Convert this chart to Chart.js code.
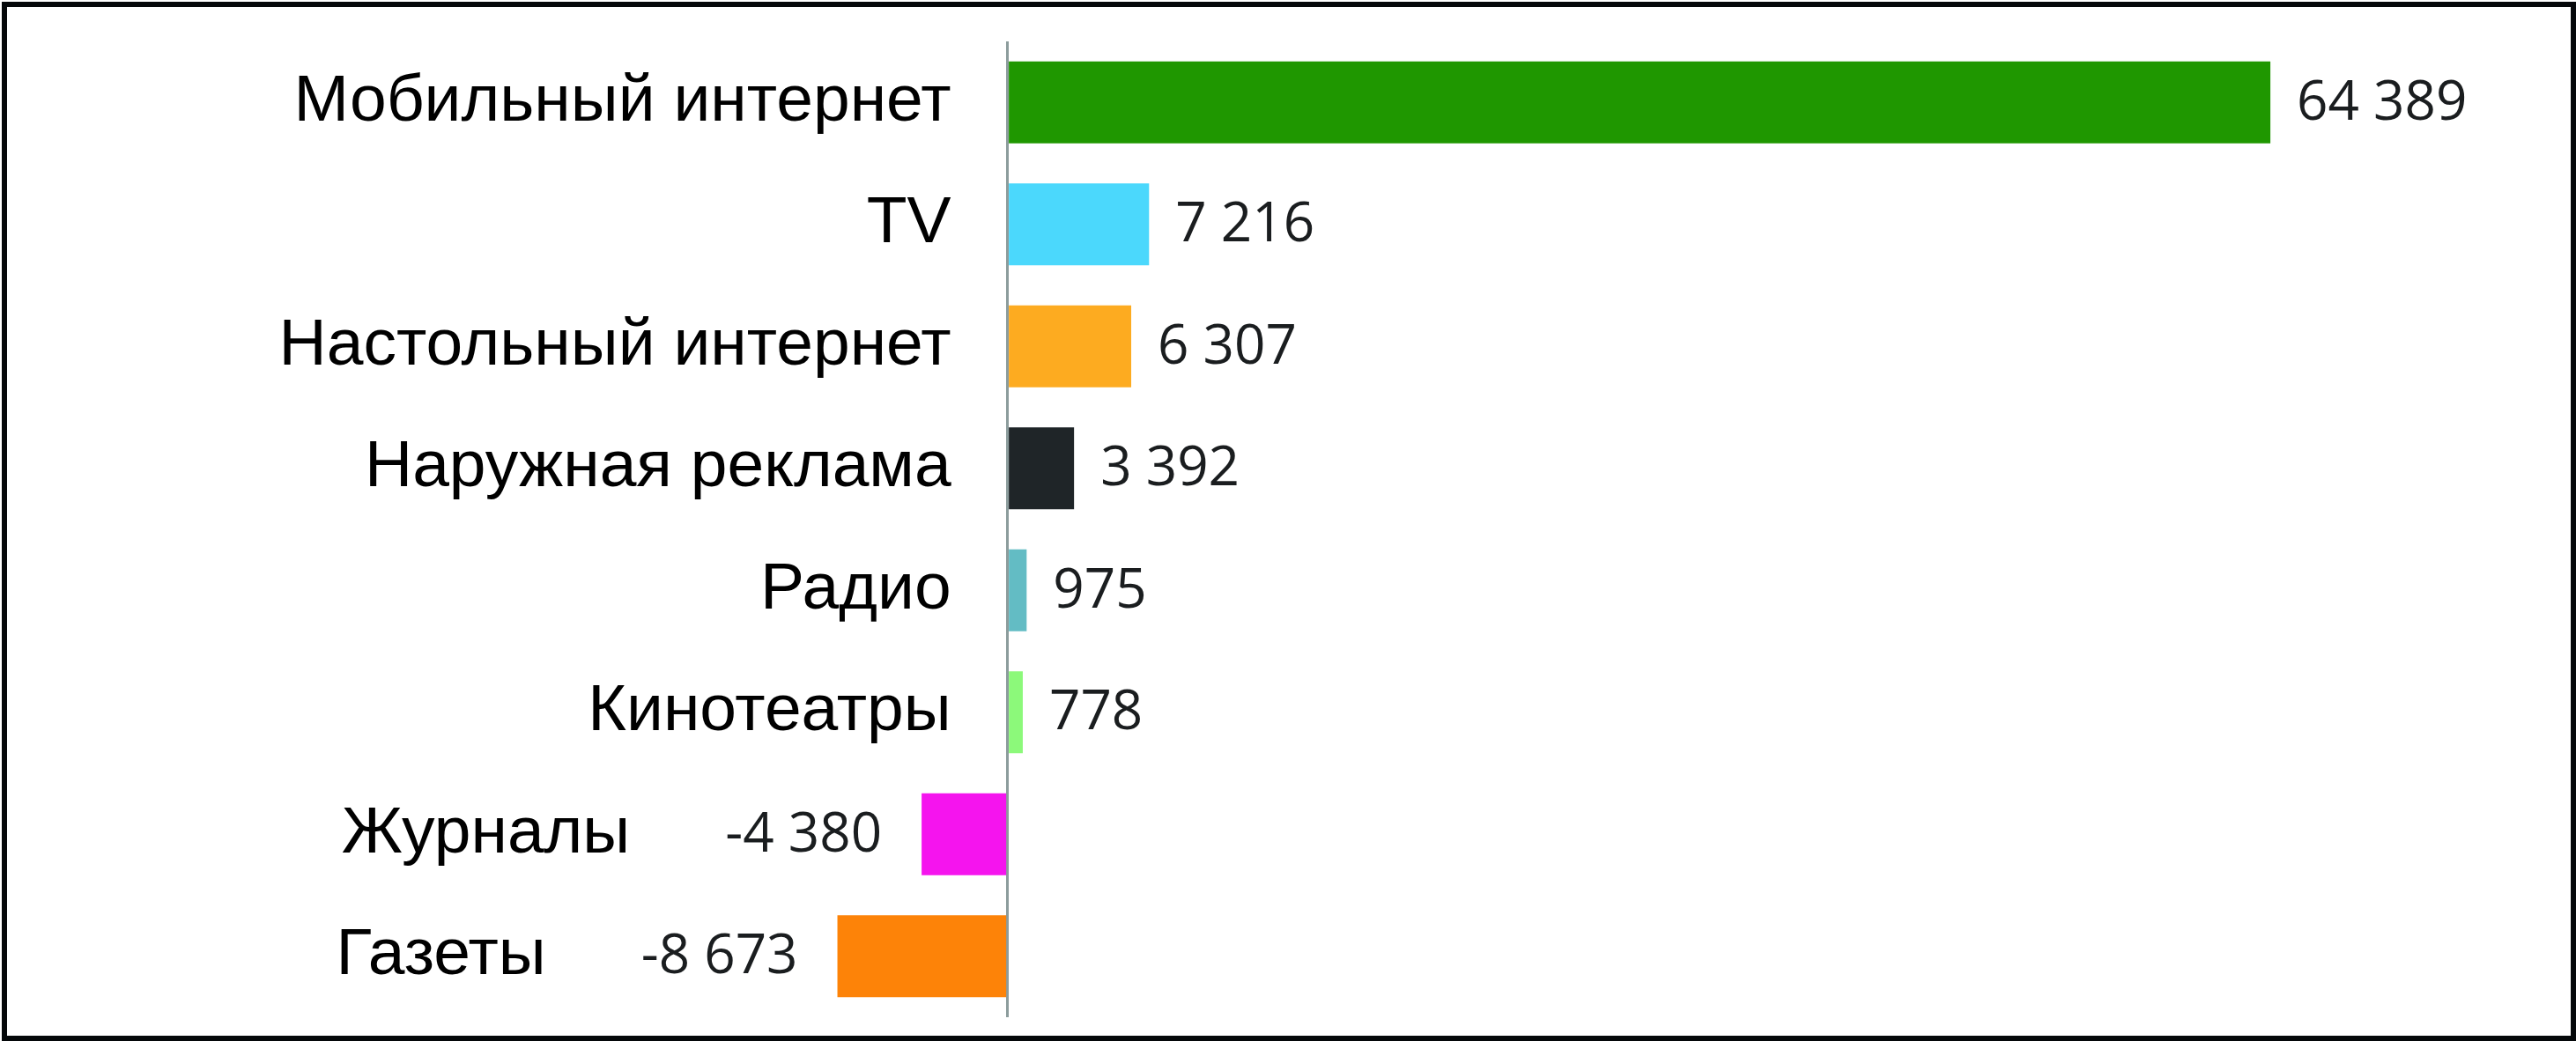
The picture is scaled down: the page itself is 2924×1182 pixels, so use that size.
<!DOCTYPE html>
<html>
<head>
<meta charset="utf-8">
<script src="https://cdn.jsdelivr.net/npm/chart.js@4.4.0/dist/chart.umd.min.js"></script>
<style>
  html, body { margin: 0; padding: 0; background: #fff; }
  #wrap { position: relative; width: 2924px; height: 1182px; }
  #frame {
    position: absolute; left: 2px; top: 2px; width: 2922px; height: 1180px;
    border: 6px solid #05080a; box-sizing: border-box; pointer-events: none;
  }
</style>
</head>
<body>
<div id="wrap">
  <canvas id="bar_chart" width="2924" height="1182"></canvas>
  <div id="frame"></div>
</div>
<script>
const categories = [
  "Мобильный интернет",
  "TV",
  "Настольный интернет",
  "Наружная реклама",
  "Радио",
  "Кинотеатры",
  "Журналы",
  "Газеты",
];
const values = [64389, 7216, 6307, 3392, 975, 778, -4380, -8673];
const valueLabels = ["64 389", "7 216", "6 307", "3 392", "975", "778", "-4 380", "-8 673"];
const barColors = [
  "#1f9700", "#4bd8fc", "#fdab20", "#1f2528",
  "#63bcc4", "#8cf97a", "#f514ee", "#fd8308",
];

// labels next to the bars: category name + value
const labelPlugin = {
  id: "barLabels",
  afterDatasetsDraw(chart) {
    const { ctx } = chart;
    const xs = chart.scales.x;
    const meta = chart.getDatasetMeta(0);
    const zero = xs.getPixelForValue(0);
    ctx.save();
    ctx.textBaseline = "middle";
    meta.data.forEach((bar, i) => {
      const y = bar.y;
      const end = xs.getPixelForValue(values[i]);
      ctx.fillStyle = "#1a1d1f";
      ctx.font = "62px 'Open Sans'";
      if (values[i] >= 0) {
        ctx.textAlign = "left";
        ctx.fillText(valueLabels[i], end + 30, y + 2);
        ctx.fillStyle = "#000";
        ctx.font = "75px 'Liberation Sans'";
        ctx.textAlign = "right";
        ctx.fillText(categories[i], zero - 64, y);
      } else {
        ctx.textAlign = "right";
        const vx = end - 45;
        ctx.fillText(valueLabels[i], vx, y + 2);
        const w = ctx.measureText(valueLabels[i]).width;
        ctx.fillStyle = "#000";
        ctx.font = "75px 'Liberation Sans'";
        ctx.fillText(categories[i], vx - w - 108, y);
      }
    });
    ctx.restore();
  },
};

const ctx = document.getElementById("bar_chart").getContext("2d");

new Chart(ctx, {
  type: "bar",
  data: {
    labels: categories,
    datasets: [
      {
        data: values,
        backgroundColor: barColors,
        borderWidth: 0,
        categoryPercentage: 1,
        barPercentage: 0.67,
      },
    ],
  },
  options: {
    indexAxis: "y",
    responsive: false,
    animation: false,
    layout: {
      padding: { left: 921, right: 222, top: 47, bottom: 27 },
    },
    plugins: {
      legend: { display: false },
      tooltip: { enabled: false },
    },
    scales: {
      x: {
        min: -10000,
        max: 70000,
        z: 1,
        ticks: { display: false, stepSize: 10000 },
        border: { display: false },
        grid: {
          drawTicks: false,
          lineWidth: 3,
          color: (c) => (c.tick && c.tick.value === 0 ? "#8c9c9c" : "rgba(0,0,0,0)"),
        },
      },
      y: {
        display: false,
      },
    },
  },
  plugins: [labelPlugin],
});
</script>
</body>
</html>
